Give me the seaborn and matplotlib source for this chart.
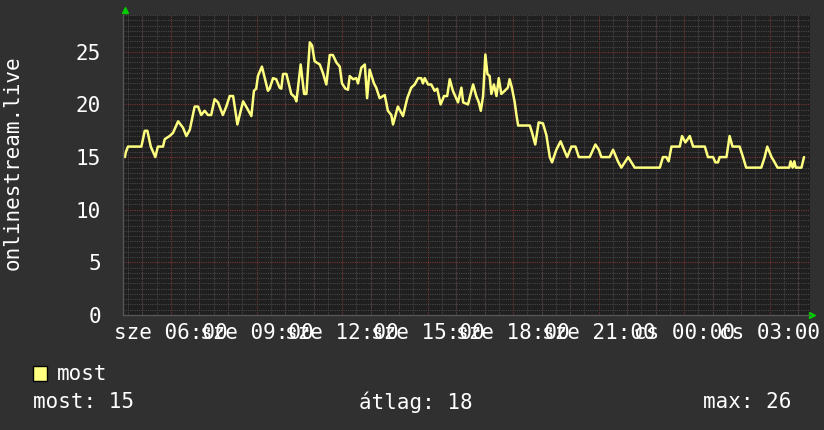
import matplotlib
matplotlib.use("Agg")
import matplotlib.pyplot as plt
import seaborn as sns
import pandas as pd

# hours since Wednesday 00:00, and viewer counts
hours = [4.38, 4.42, 4.49, 4.96, 5.08, 5.17, 5.29, 5.37, 5.45, 5.54, 5.72, 5.78,
         5.95, 6.07, 6.25, 6.42, 6.54, 6.66, 6.83, 6.95, 7.06, 7.18, 7.30, 7.41,
         7.53, 7.65, 7.82, 7.94, 8.06, 8.18, 8.33, 8.41, 8.53, 8.70, 8.82, 8.91,
         8.99, 9.05, 9.19, 9.29, 9.40, 9.46, 9.58, 9.69, 9.81, 9.87, 9.93, 10.05,
         10.22, 10.34, 10.40, 10.55, 10.67, 10.75, 10.87, 10.95, 11.04, 11.16, 11.22, 11.33,
         11.45, 11.57, 11.68, 11.80, 11.92, 12.00, 12.12, 12.21, 12.27, 12.39, 12.50, 12.56,
         12.68, 12.80, 12.88, 12.97, 13.12, 13.20, 13.32, 13.50, 13.61, 13.73, 13.79, 13.96,
         14.14, 14.29, 14.43, 14.55, 14.67, 14.78, 14.84, 14.90, 15.02, 15.13, 15.25, 15.34,
         15.46, 15.58, 15.69, 15.78, 15.89, 16.07, 16.19,
         16.25, 16.42, 16.60, 16.71, 16.80, 16.87, 16.95, 17.03, 17.10, 17.18, 17.24, 17.33,
         17.42, 17.50, 17.59, 17.71, 17.82, 17.88, 17.96, 18.06, 18.12, 18.18, 18.59, 18.67,
         18.78, 18.90, 19.05, 19.17, 19.29, 19.37, 19.52, 19.67, 19.79, 19.90, 20.05, 20.19,
         20.31, 20.69, 20.89, 21.01, 21.10, 21.39, 21.51, 21.68, 21.80, 22.04,
         22.27, 23.15, 23.26, 23.38, 23.46, 23.56, 23.85, 23.93, 24.05, 24.20, 24.32, 24.73,
         24.84, 25.02, 25.10, 25.19, 25.25, 25.49, 25.60, 25.70, 25.95, 26.07, 26.18, 26.71,
         26.83, 26.92, 27.07, 27.16, 27.28, 27.69, 27.74, 27.81, 27.87, 27.92, 28.12, 28.21]
viewers = [15.0, 15.5, 16, 16, 17.5, 17.5, 16, 15.5, 15, 16, 16, 16.7,
           17, 17.3, 18.4, 17.8, 17, 17.6, 19.8, 19.8, 19, 19.4, 19, 19,
           20.5, 20.2, 19, 19.8, 20.8, 20.8, 18.1, 19, 20.3, 19.5, 18.9, 21.3,
           21.5, 22.7, 23.6, 22.5, 21.3, 21.5, 22.5, 22.4, 21.6, 21.5, 22.9, 22.9,
           21, 20.7, 20.3, 23.8, 21, 21, 25.9, 25.6, 24.1, 23.9, 23.8, 23,
           21.9, 24.7, 24.7, 24, 23.6, 22, 21.5, 21.4, 22.7, 22.4, 22.5, 22,
           23.5, 23.8, 20.6, 23.3, 22, 21.6, 20.6, 20.9, 19.4, 19, 18.1, 19.8,
           18.9, 20.6, 21.6, 21.9, 22.5, 22.5, 22, 22.5, 21.9, 21.9, 21.3, 21.5,
           20, 20.8, 20.8, 22.4, 21.3, 20.2, 21.6,
           20.2, 20, 21.9, 20.8, 20.2, 19.4, 20.8, 24.75, 22.9, 22.7, 21, 21.9,
           20.8, 22.5, 21, 21.3, 21.6, 22.4, 21.6, 20.2, 19, 18, 18, 17.3,
           16.2, 18.3, 18.2, 17.1, 15, 14.5, 15.7, 16.5, 15.7, 15, 16, 16,
           15, 15, 16.2, 15.7, 15, 15, 15.7, 14.6, 14, 15,
           14, 14, 15, 15, 14.6, 16, 16, 17, 16.4, 17, 16, 16,
           15, 15, 14.5, 14.5, 15, 15, 17, 16, 16, 15, 14, 14,
           15, 16, 15, 14.6, 14, 14, 14.6, 14, 14.6, 14, 14, 15]

tick_hours = [6, 9, 12, 15, 18, 21, 24, 27]
tick_labels = ["sze 06:00", "sze 09:00", "sze 12:00", "sze 15:00",
               "sze 18:00", "sze 21:00", "cs 00:00", "cs 03:00"]
y_ticks = [0, 5, 10, 15, 20, 25]

df = pd.DataFrame({"hour": hours, "most": viewers})

sns.set_theme(style="dark")
plt.rcParams['font.family'] = ['DejaVu Sans Mono']

bg = "#303030"
fig = plt.figure(figsize=(8.24, 4.30), dpi=100, facecolor=bg)
ax = fig.add_axes([123 / 824, 1 - 315 / 430, 687 / 824, 300 / 430])
ax.set_facecolor("#1f1f1f")

sns.lineplot(data=df, x="hour", y="most", ax=ax, color="#ffff80", linewidth=1.8)

ax.set_xlim(4.316, 28.42)
ax.set_ylim(0, 28.5)

# grid: minor grey dots every half hour / half unit, red dots every hour / 5 units
ax.xaxis.set_minor_locator(plt.MultipleLocator(0.5))
ax.yaxis.set_minor_locator(plt.MultipleLocator(0.5))
ax.grid(which='minor', color='#474747', linestyle=(0, (1, 1)), linewidth=0.8)
ax.grid(which='major', axis='y', color='#7a3434', linestyle=(0, (1, 1)), linewidth=0.8)
ax.set_axisbelow(True)
for h in range(5, 29):
    ax.axvline(h, color='#7a3434', linestyle=(0, (1, 1)), linewidth=0.8, zorder=0.5)

ax.set_yticks(y_ticks)
ax.set_yticklabels([str(v) for v in y_ticks])
ax.set_xticks(tick_hours)
ax.set_xticklabels(tick_labels)

ax.tick_params(axis='both', which='both', length=0, colors='white', labelsize=15)
ax.tick_params(axis='y', pad=16)
ax.tick_params(axis='x', pad=6)

for s in ['top', 'right']:
    ax.spines[s].set_visible(False)
for s in ['left', 'bottom']:
    ax.spines[s].set_color('#555555')
    ax.spines[s].set_linewidth(1)

ax.set_xlabel("")
ax.set_ylabel("")
fig.text(13 / 824, 1 - 163 / 430, "onlinestream.live", rotation=90, color='white',
         fontsize=15, ha='center', va='center')

# rrd style arrows
ax.plot([0.003], [1.0 + 5 / 300], marker='^', color='#00cc00', markersize=5,
        transform=ax.transAxes, clip_on=False)
ax.plot([1.003], [0.0], marker='>', color='#00cc00', markersize=5,
        transform=ax.transAxes, clip_on=False)

# legend block
fig.patches.append(plt.Rectangle((33 / 824, 1 - 381 / 430), 14 / 824, 15 / 430,
                                 transform=fig.transFigure, facecolor='#ffff80',
                                 edgecolor='black', linewidth=1))
fig.text(57 / 824, 1 - 374 / 430, "most", color='white', fontsize=15, va='center')
fig.text(33 / 824, 1 - 402 / 430, "most: 15", color='white', fontsize=15, va='center')
fig.text(359 / 824, 1 - 402 / 430, "átlag: 18", color='white', fontsize=15, va='center')
fig.text(703 / 824, 1 - 402 / 430, "max: 26", color='white', fontsize=15, va='center')

plt.savefig("out.png", dpi=100, facecolor=bg)
